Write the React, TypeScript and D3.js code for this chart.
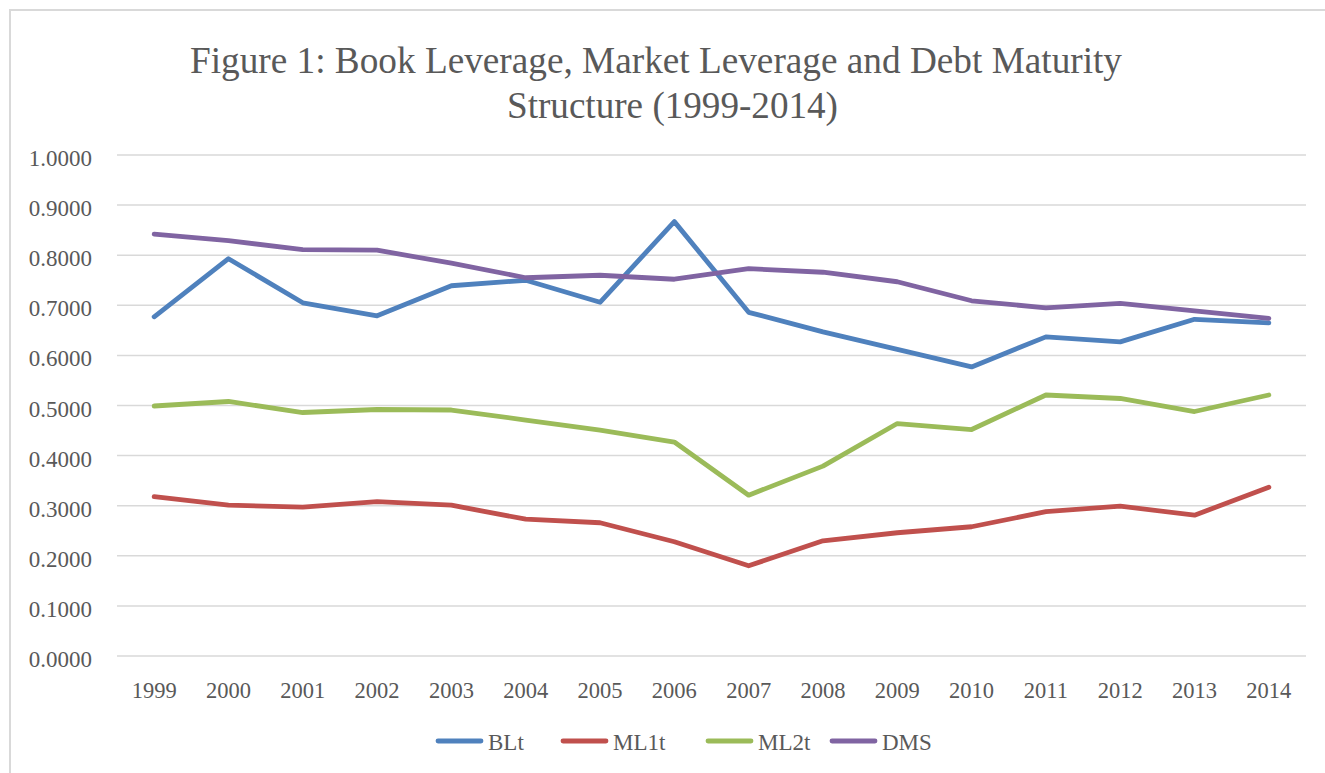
import React from "react";
import * as d3 from "d3";

const years = ["1999","2000","2001","2002","2003","2004","2005","2006","2007","2008","2009","2010","2011","2012","2013","2014"];
const BLt = [0.677,0.793,0.705,0.679,0.739,0.750,0.706,0.867,0.686,0.647,0.612,0.577,0.637,0.627,0.672,0.665];
const ML1t = [0.318,0.301,0.297,0.308,0.301,0.273,0.266,0.228,0.180,0.230,0.246,0.258,0.288,0.299,0.281,0.337];
const ML2t = [0.499,0.508,0.486,0.492,0.491,0.471,0.451,0.427,0.321,0.379,0.464,0.452,0.521,0.514,0.488,0.521];
const DMS = [0.842,0.829,0.811,0.810,0.784,0.755,0.760,0.752,0.773,0.766,0.747,0.709,0.695,0.704,0.689,0.674];
const yTicks = [0,0.1,0.2,0.3,0.4,0.5,0.6,0.7,0.8,0.9,1.0];
const titleLines = ["Figure 1: Book Leverage, Market Leverage and Debt Maturity", "Structure (1999-2014)"];

const seriesList = [
  { name: "BLt", values: BLt, color: "#4F81BD" },
  { name: "ML1t", values: ML1t, color: "#C0504D" },
  { name: "ML2t", values: ML2t, color: "#9BBB59" },
  { name: "DMS", values: DMS, color: "#8064A2" },
];
const legendX = [436, 561, 706, 830];

export default function App() {
  const W = 1325, H = 773;
  const x = d3.scaleBand<string>().domain(years).range([117, 1306]);
  const y = d3.scaleLinear().domain([0, 1]).range([656, 155]);
  const line = d3.line<number>()
    .x((_, i) => (x(years[i]) as number) + x.bandwidth() / 2)
    .y((d) => y(d));
  const font = "'Liberation Serif', 'Times New Roman', serif";
  const txt = "#595959";
  return (
    <svg width={W} height={H} style={{ position: "absolute", left: 0, top: 0 }} fontFamily={font}>
      <rect x={0} y={0} width={W} height={H} fill="#fff" />
      <rect x={10} y={10} width={W + 20} height={H + 20} fill="#fff" stroke="#d9d9d9" strokeWidth={2} />
      <text x={190} y={73} fontSize={38} fill={txt} textLength={932} lengthAdjust="spacingAndGlyphs">{titleLines[0]}</text>
      <text x={507} y={118} fontSize={38} fill={txt} textLength={331} lengthAdjust="spacingAndGlyphs">{titleLines[1]}</text>
      {yTicks.map((t) => (
        <g key={t}>
          <line x1={117} x2={1306} y1={y(t)} y2={y(t)} stroke="#d9d9d9" strokeWidth={1.5} />
          <text x={92} y={y(t) + 11} textAnchor="end" fontSize={23} fill={txt}>{t.toFixed(4)}</text>
        </g>
      ))}
      {years.map((yr) => (
        <text key={yr} x={(x(yr) as number) + x.bandwidth() / 2} y={698} textAnchor="middle" fontSize={22.5} fill={txt}>{yr}</text>
      ))}
      {seriesList.map((s) => (
        <path key={s.name} d={line(s.values) as string} fill="none" stroke={s.color} strokeWidth={4.8} strokeLinejoin="round" strokeLinecap="round" />
      ))}
      {seriesList.map((s, i) => (
        <g key={s.name}>
          <line x1={legendX[i] + 2} x2={legendX[i] + 45} y1={741} y2={741} stroke={s.color} strokeWidth={4.8} strokeLinecap="round" />
          <text x={legendX[i] + 52} y={750} fontSize={23} fill={txt}>{s.name}</text>
        </g>
      ))}
    </svg>
  );
}
